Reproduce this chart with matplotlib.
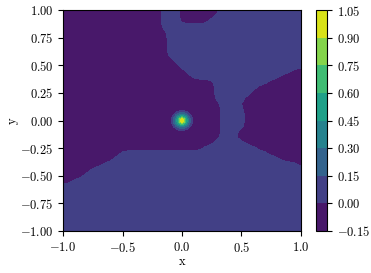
import numpy as np
import matplotlib
matplotlib.use("Agg")
import matplotlib.pyplot as plt

plt.rcParams.update({
    "font.family": "serif",
    "font.serif": ["cmr10"],
    "mathtext.fontset": "cm",
    "axes.formatter.use_mathtext": True,
    "font.size": 9,
})

# background field on a 41x41 grid (step 0.05),
# rows from y=1 down to y=-1; each row is run lengths alternating
# below-zero / above-zero, starting with below-zero
grid_x = np.linspace(-1.0, 1.0, 41)
grid_y = np.linspace(1.0, -1.0, 41)
row_runs = [
    [17, 3, 7, 14],
    [17, 3, 6, 15],
    [17, 3, 5, 16],
    [17, 24],
    [18, 23],
    [18, 23],
    [18, 23],
    [18, 23],
    [18, 23],
    [19, 22],
    [20, 21],
    [21, 18, 2],
    [22, 15, 4],
    [26, 9, 6],
    [26, 7, 8],
    [26, 6, 9],
    [26, 5, 10],
    [27, 3, 11],
    [27, 4, 10],
    [27, 4, 10],
    [27, 4, 10],
    [27, 4, 10],
    [27, 3, 11],
    [27, 2, 12],
    [26, 5, 10],
    [24, 9, 8],
    [10, 25, 6],
    [9, 28, 4],
    [7, 33, 1],
    [5, 36],
    [4, 37],
    [2, 39],
    [0, 41], [0, 41], [0, 41], [0, 41], [0, 41],
    [0, 41], [0, 41], [0, 41], [0, 41],
]
low_value = -0.05
high_value = 0.05

# radial profile of the spike at the origin
peak_radius = [0.0, 0.015, 0.03, 0.045, 0.06, 0.075, 0.09, 0.12]
peak_value = [1.0, 0.9, 0.65, 0.42, 0.25, 0.12, 0.0, -0.05]

levels = [-0.15, 0.0, 0.15, 0.30, 0.45, 0.60, 0.75, 0.90, 1.05]


def build_field(runs):
    rows = []
    for run in runs:
        row = []
        for k, n in enumerate(run):
            row += [low_value if k % 2 == 0 else high_value] * n
        assert len(row) == 41, run
        rows.append(row)
    z = np.array(rows)
    # soften the step edges so the contour lines come out rounded
    k = np.array([1.0, 2.0, 1.0]) / 4
    zp = np.pad(z, 1, mode="edge")
    z = k[0] * zp[:, :-2] + k[1] * zp[:, 1:-1] + k[2] * zp[:, 2:]
    z = k[0] * z[:-2] + k[1] * z[1:-1] + k[2] * z[2:]
    return z


def peak_points():
    theta = np.linspace(0, 2 * np.pi, 48, endpoint=False)
    px, py, pz = [0.0], [0.0], [peak_value[0]]
    for r, v in zip(peak_radius[1:], peak_value[1:]):
        px += list(r * np.cos(theta))
        py += list(r * np.sin(theta))
        pz += [v] * len(theta)
    return np.array(px), np.array(py), np.array(pz)


fig = plt.figure(figsize=(3.71, 2.73), dpi=100)
ax = fig.add_axes([0.170, 0.154, 0.641, 0.809])
cax = fig.add_axes([0.852, 0.154, 0.030, 0.809])

X, Y = np.meshgrid(grid_x, grid_y)
Z = build_field(row_runs)
cs = ax.contourf(X, Y, Z, levels=levels, cmap="viridis")
px, py, pz = peak_points()
ax.tricontourf(px, py, pz, levels=levels, cmap="viridis")

ax.set_xlim(-1, 1)
ax.set_ylim(-1, 1)
ax.set_xticks([-1.0, -0.5, 0.0, 0.5, 1.0])
ax.set_yticks([-1.0, -0.75, -0.5, -0.25, 0.0, 0.25, 0.5, 0.75, 1.0])
ax.set_yticklabels(["$-1.00$", "$-0.75$", "$-0.50$", "$-0.25$", "$0.00$",
                    "$0.25$", "$0.50$", "$0.75$", "$1.00$"])
ax.set_xticklabels(["$-1.0$", "$-0.5$", "$0.0$", "$0.5$", "$1.0$"])
ax.set_xlabel("x", labelpad=1)
ax.set_ylabel("y", labelpad=1)

cb = fig.colorbar(cs, cax=cax, ticks=levels)
cb.ax.set_yticklabels(["$-0.15$", "$0.00$", "$0.15$", "$0.30$", "$0.45$",
                       "$0.60$", "$0.75$", "$0.90$", "$1.05$"])

fig.savefig("out.png", dpi=100)
